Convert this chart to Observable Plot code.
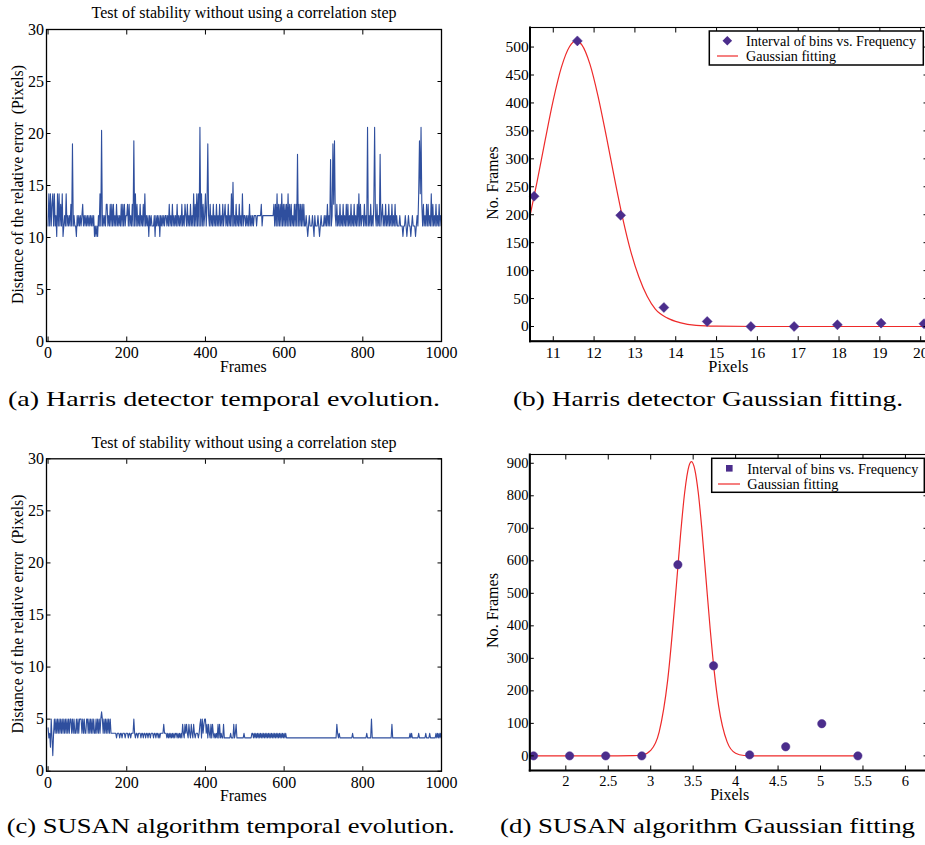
<!DOCTYPE html>
<html>
<head>
<meta charset="utf-8">
<script src="https://cdn.jsdelivr.net/npm/d3@7"></script>
<script src="https://cdn.jsdelivr.net/npm/@observablehq/plot@0.6"></script>
<style>
html, body { margin:0; padding:0; background:#fff; overflow:hidden; }
#root { position:relative; width:925px; height:845px; overflow:hidden; background:#fff; }
#overlay { position:absolute; left:0; top:0; pointer-events:none; }
</style>
</head>
<body>
<div id="root"></div>
<script>
// ---------------- DATA ----------------
const frameTicks = [0, 200, 400, 600, 800, 1000];
const distanceTicks = [0, 5, 10, 15, 20, 25, 30];

// Harris detector: level codes, one per 2 frames (each string = 50 frames)
const harrisLevels = [10.1, 11.1, 12.1, 13.2, 14.2];
const harrisCodes = [
  "1414134141204141314012141",
  "2121312121102121212312121",
  "2121212120101021414121213",
  "3121313131213121213131312",
  "2313121312141312131213141",
  "2120212111202121202121212",
  "2121312131212131212131213",
  "2131213121413141414141312",
  "4131213121312131213121312",
  "3121312141312131213121412",
  "2121213121212221222223122",
  "2222222222223131413131413",
  "1313141313121313131313131",
  "3112101211121021112101211",
  "1212131213121312131213121",
  "3121313121312131213141312",
  "2131213121312131213121312",
  "3121312131213121312111211",
  "1011210121101211101214141",
  "31312131312141312131213122"
];
// isolated spikes [frame, value]
const harrisSpikes = [
  [61, 19.0], [135, 20.3], [218, 19.3], [386, 20.6], [405, 19.0], [470, 15.3],
  [633, 18.0], [717, 17.5], [723, 19.0], [727, 19.3], [812, 20.6], [829, 20.6],
  [843, 18.0], [944, 19.3], [947, 20.6]
];

// SUSAN algorithm: level codes, one per 2 frames
const susanLevels = {a: 1.5, b: 2.3, c: 3.2, d: 3.64, e: 4.16, f: 4.5, g: 5.0, h: 5.7};
const susanCodes = [
  "ecdbgcadgdgdgdgdgdgdgdgdg",
  "dgdggdgdgddgdgdgggdgdgddg",
  "gdgdgdgdgddgdgdgdghgdgdgd",
  "gdgdgdddddddcdddcddcdddcd",
  "ddcddcdddgdcddcdddcddcddc",
  "ddcddcdddcddcddcdcddddfdd",
  "dcdcdcdcdcdcddcdcdcdcfdcf",
  "dfdcfdcfdcfdcdddcdfgcgdfg",
  "gdfcfdcfcfdcdcdcfcfcdccfc",
  "cccccccdcccfcdfcccccccccd",
  "cccccccccddcdcdcdcdcdcdcd",
  "cdcdcdcdcdcdcdcdcdcdcdcdc",
  "dcdcccccccccccccccccccccc",
  "ccccccccccccccccccccccccc",
  "cccccccccccccccccfdcdcccc",
  "ccccccccccccdcccccccccccc",
  "cccccdcccccgccccccccccccc",
  "ccccccccccccfcccccccccccc",
  "ccccccccccdcdccccccccdccc",
  "cccccdccccdcccccccdcdcdcdc"
];

// Harris histogram + Gaussian fit
const harrisBinCenters = [10.53, 11.59, 12.65, 13.71, 14.77, 15.84, 16.90, 17.96, 19.03, 20.08];
const harrisBinCounts  = [233, 511, 199, 34, 9, 0, 0, 3, 6, 5];
const harrisFitX = [10.43, 10.6, 10.8, 11.0, 11.2, 11.4, 11.56, 11.7, 11.9, 12.1, 12.3, 12.5, 12.7, 12.9, 13.1, 13.3, 13.5, 13.8, 14.1, 14.5, 15.0, 16.0, 18.0, 20.17];
const harrisFitY = [198, 258, 333, 405, 464, 501, 511, 504, 469, 411, 340, 265, 194, 134, 88, 54, 31, 15, 7, 2, 0.5, 0, 0, 0];
const harrisPixelTicks = [11, 12, 13, 14, 15, 16, 17, 18, 19, 20];
const harrisCountTicks = [0, 50, 100, 150, 200, 250, 300, 350, 400, 450, 500];

// SUSAN histogram + Gaussian fit
const susanBinCenters = [1.62, 2.045, 2.47, 2.895, 3.32, 3.74, 4.165, 4.59, 5.015, 5.44];
const susanBinCounts  = [0, 0, 0, 0, 588, 277, 3, 28, 99, 0];
const susanFitX = [1.6, 2.5, 2.8, 2.9, 3.0, 3.1, 3.2, 3.3, 3.35, 3.4, 3.45, 3.48, 3.52, 3.56, 3.6, 3.65, 3.7, 3.75, 3.8, 3.9, 4.0, 4.1, 4.2, 4.5, 5.44];
const susanFitY = [0, 0, 0.5, 2.7, 17, 74, 233, 517, 676, 810, 891, 905, 880, 810, 705, 549, 392, 256, 154, 43, 8, 1.2, 0, 0, 0];
const susanPixelTicks = [2, 2.5, 3, 3.5, 4, 4.5, 5, 5.5, 6];
const susanCountTicks = [0, 100, 200, 300, 400, 500, 600, 700, 800, 900];

// texts
const stabilityTitle = "Test of stability without using a correlation step";
const distanceLabel = "Distance of the relative error  (Pixels)";
const legendPoints = "Interval of bins vs. Frequency";
const legendFit = "Gaussian fitting";
const captions = [
  "(a) Harris detector temporal evolution.",
  "(b) Harris detector Gaussian fitting.",
  "(c) SUSAN algorithm temporal evolution.",
  "(d) SUSAN algorithm Gaussian fitting"
];

// ---------------- STYLE ----------------
const lineBlue = "#2f4f9e";
const dotPurple = "#4b2d8c";
const fitRed = "#ee2a2a";
const TICK = 4.5;
const serif = "'Liberation Serif', 'Times New Roman', serif";

const root = document.getElementById("root");
function place(el, left, top) {
  el.style.position = "absolute";
  el.style.left = left + "px";
  el.style.top = top + "px";
  el.style.maxWidth = "none";
  root.appendChild(el);
}

function buildSeries(codes, decode, spikes) {
  const s = codes.join("");
  const data = Array.from(s, (c, i) => ({frame: i * 2, value: decode(c)}));
  for (const [f, v] of spikes) data[Math.round(f / 2)].value = v;
  return data;
}

function axes(xTicks, yTicks, padX, padY, fontSize) {
  const fmt = d => String(d);
  return [
    Plot.axisX({ticks: xTicks, tickSize: -TICK, tickPadding: TICK + padX, tickFormat: fmt, label: null, fontSize}),
    Plot.axisX({anchor: "top", ticks: xTicks, tickSize: -TICK, tickFormat: () => "", label: null}),
    Plot.axisY({ticks: yTicks, tickSize: -TICK, tickPadding: TICK + padY, tickFormat: fmt, label: null, fontSize}),
    Plot.axisY({anchor: "right", ticks: yTicks, tickSize: -TICK, tickFormat: () => "", label: null})
  ];
}

function timePlot(series, marginTop, marginBottom) {
  return Plot.plot({
    width: 460, height: 380,
    marginLeft: 46, marginRight: 19, marginTop, marginBottom,
    x: {domain: [-4, 1000], label: null},
    y: {domain: [0, 30], label: null},
    style: {fontFamily: serif, fontSize: "16px", color: "#000", background: "transparent"},
    marks: [
      Plot.line(series, {x: "frame", y: "value", stroke: lineBlue, strokeWidth: 1.1}),
      Plot.frame({stroke: "#000", strokeWidth: 1.3}),
      ...axes(frameTicks, distanceTicks, 5, 2.5, 16)
    ]
  });
}

function histPlot(o) {
  const pts = o.centers.map((c, i) => ({x: c, y: o.counts[i]}));
  const fit = o.fitX.map((x, i) => ({x, y: o.fitY[i]}));
  return Plot.plot({
    width: 467, height: 380,
    marginLeft: o.marginLeft, marginRight: 0, marginTop: o.marginTop, marginBottom: o.marginBottom,
    x: {domain: o.xDomain, label: null},
    y: {domain: o.yDomain, label: null},
    style: {fontFamily: serif, fontSize: o.fontSize + "px", color: "#000", background: "transparent"},
    marks: [
      Plot.line(fit, {x: "x", y: "y", stroke: fitRed, strokeWidth: 1.2, curve: "monotone-x"}),
      Plot.dot(pts, {x: "x", y: "y", symbol: o.symbol, r: o.r, fill: dotPurple, stroke: dotPurple, strokeWidth: 0.5}),
      Plot.frame({stroke: "#000", strokeWidth: 1.1}),
      Plot.frame({anchor: "left", stroke: "#000", strokeWidth: 2}),
      Plot.frame({anchor: "bottom", stroke: "#000", strokeWidth: 2}),
      ...axes(o.xTicks, o.yTicks, 5.5, 1.3, o.fontSize)
    ]
  });
}

// ---------------- CHARTS ----------------
const harrisSeries = buildSeries(harrisCodes, c => harrisLevels[+c], harrisSpikes);
const susanSeries = buildSeries(susanCodes, c => susanLevels[c], []);

place(timePlot(harrisSeries, 29, 39), 0, 0);
place(timePlot(susanSeries, 28.3, 39.3), 0, 430);

place(histPlot({
  centers: harrisBinCenters, counts: harrisBinCounts, fitX: harrisFitX, fitY: harrisFitY,
  xDomain: [10.43, 20.167], yDomain: [-26.3, 535], xTicks: harrisPixelTicks, yTicks: harrisCountTicks,
  marginLeft: 69.5, marginTop: 27, marginBottom: 39.3, symbol: "diamond2", r: 4.5, fontSize: 15.5
}), 460, 0);

place(histPlot({
  centers: susanBinCenters, counts: susanBinCounts, fitX: susanFitX, fitY: susanFitY,
  xDomain: [1.576, 6.26], yDomain: [-45, 927], xTicks: susanPixelTicks, yTicks: susanCountTicks,
  marginLeft: 69.3, marginTop: 24, marginBottom: 40, symbol: "circle", r: 4.2, fontSize: 14.5
}), 460, 430);

// ---------------- TEXT / LEGENDS OVERLAY ----------------
const overlay = d3.select(root).append("svg")
  .attr("id", "overlay").attr("width", 925).attr("height", 845);

function txt({text, x, y, size, length, anchor = "middle", rotate = 0, family = serif}) {
  const g = overlay.append("g").attr("transform", `translate(${x},${y}) rotate(${rotate})`);
  const t = g.append("text")
    .attr("x", 0).attr("y", 0)
    .attr("text-anchor", anchor)
    .style("font-family", family)
    .style("font-size", size + "px")
    .style("white-space", "pre")
    .attr("fill", "#000")
    .text(text);
  if (length) t.attr("textLength", length).attr("lengthAdjust", "spacingAndGlyphs");
  return t;
}

// titles
txt({text: stabilityTitle, x: 244, y: 18.3, size: 16, length: 305});
txt({text: stabilityTitle, x: 244, y: 448, size: 16, length: 305});
// y labels (time plots)
txt({text: distanceLabel, x: 22.5, y: 184.5, size: 16.5, length: 239, rotate: -90});
txt({text: distanceLabel, x: 22.5, y: 614, size: 16.5, length: 239, rotate: -90});
// x labels
txt({text: "Frames", x: 243.3, y: 372, size: 16.5, length: 46.7});
txt({text: "Frames", x: 243.3, y: 800.5, size: 16.5, length: 46.7});
txt({text: "Pixels", x: 728.3, y: 372, size: 16.5, length: 40});
txt({text: "Pixels", x: 729.7, y: 800, size: 16, length: 39});
// y labels (histograms)
txt({text: "No. Frames", x: 498, y: 183, size: 16, length: 73, rotate: -90});
txt({text: "No. Frames", x: 498, y: 610.5, size: 16, length: 75, rotate: -90});
// captions
txt({text: captions[0], x: 8, y: 406, size: 21, length: 432, anchor: "start"});
txt({text: captions[1], x: 513, y: 406, size: 21, length: 390, anchor: "start"});
txt({text: captions[2], x: 6.7, y: 833.3, size: 21, length: 448, anchor: "start"});
txt({text: captions[3], x: 500, y: 833.3, size: 21, length: 415, anchor: "start"});

// legends
function legend(box, marker, lineY, lineX, textX, base1, base2, len1, len2) {
  overlay.append("rect")
    .attr("x", box[0]).attr("y", box[1]).attr("width", box[2] - box[0]).attr("height", box[3] - box[1])
    .attr("fill", "#fff").attr("stroke", "#000").attr("stroke-width", 1.5);
  if (marker.type === "diamond") {
    const [cx, cy, h] = [marker.x, marker.y, marker.s];
    overlay.append("path").attr("d", `M${cx},${cy - h}L${cx + h},${cy}L${cx},${cy + h}L${cx - h},${cy}Z`).attr("fill", dotPurple);
  } else {
    overlay.append("rect").attr("x", marker.x - marker.s).attr("y", marker.y - marker.s)
      .attr("width", marker.s * 2).attr("height", marker.s * 2).attr("fill", dotPurple);
  }
  overlay.append("line").attr("x1", lineX[0]).attr("x2", lineX[1]).attr("y1", lineY).attr("y2", lineY)
    .attr("stroke", fitRed).attr("stroke-width", 1.2);
  txt({text: legendPoints, x: textX, y: base1, size: 15, length: len1, anchor: "start"});
  txt({text: legendFit, x: textX, y: base2, size: 15, length: len2, anchor: "start"});
}
legend([709.3, 31, 923.3, 65], {type: "diamond", x: 727.3, y: 40.7, s: 4.8}, 56, [717, 738], 746, 46, 61, 170, 90);
legend([711.7, 458.3, 924.3, 492.3], {type: "square", x: 729.3, y: 468.3, s: 3.3}, 484, [718, 740], 747.3, 474, 488.5, 171, 91);
</script>
</body>
</html>
